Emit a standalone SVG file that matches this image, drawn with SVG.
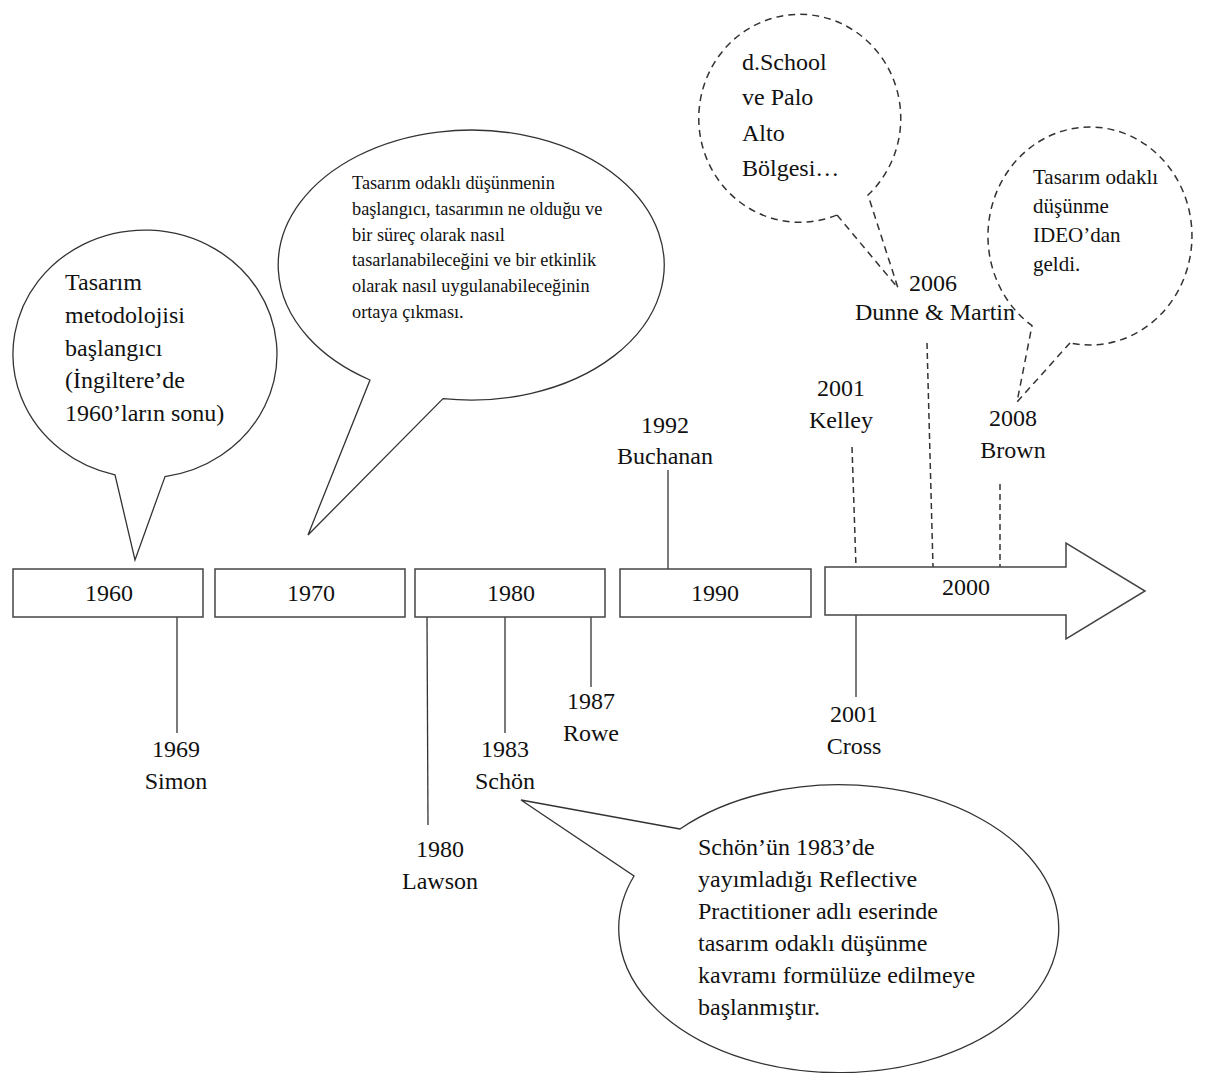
<svg xmlns="http://www.w3.org/2000/svg" width="1208" height="1073" viewBox="0 0 1208 1073">
<style>
text{font-family:"Liberation Serif","Times New Roman",serif;fill:#111;}
.lb{font-size:24px;text-anchor:middle;}
.bt{font-size:24px;}
.sm{font-size:18.3px;}
.md{font-size:21px;}
.bx{fill:#fff;stroke:#444;stroke-width:1.5;}
.bub{fill:#fff;stroke:#333;stroke-width:1.3;}
.dbub{fill:#fff;stroke:#333;stroke-width:1.5;stroke-dasharray:7 5;}
.ln{stroke:#333;stroke-width:1.3;fill:none;}
.dl{stroke:#333;stroke-width:1.5;fill:none;stroke-dasharray:6 4;}
</style>
<rect width="1208" height="1073" fill="#fff"/>
<g id="bubble-1960">
<path class="bub" d="M165,476.6 L135,560 L115,474.8 A132 124 0 1 1 165,476.6 Z"/>
<text class="bt" x="65" y="290">Tasarım</text>
<text class="bt" x="65" y="323">metodolojisi</text>
<text class="bt" x="65" y="356">başlangıcı</text>
<text class="bt" x="65" y="388">(İngiltere’de</text>
<text class="bt" x="65" y="421">1960’ların sonu)</text>
</g>
<g id="bubble-1970">
<path class="bub" d="M443,398.6 L308,535 L370,380 A193 135 0 1 1 443,398.6 Z"/>
<text class="sm" x="352" y="189">Tasarım odaklı düşünmenin</text>
<text class="sm" x="352" y="215">başlangıcı, tasarımın ne olduğu ve</text>
<text class="sm" x="352" y="241">bir süreç olarak nasıl</text>
<text class="sm" x="352" y="266">tasarlanabileceğini ve bir etkinlik</text>
<text class="sm" x="352" y="292">olarak nasıl uygulanabileceğinin</text>
<text class="sm" x="352" y="318">ortaya çıkması.</text>
</g>
<g id="bubble-dschool">
<path class="dbub" d="M837,215 L898,288 L868,195 A101 104 0 1 0 837,215 Z"/>
<text class="bt" x="742" y="70">d.School</text>
<text class="bt" x="742" y="105">ve Palo</text>
<text class="bt" x="742" y="141">Alto</text>
<text class="bt" x="742" y="176">Bölgesi…</text>
</g>
<g id="bubble-ideo">
<path class="dbub" d="M1070,342.9 L1017,402 L1032,325.7 A102 109 0 1 1 1070,342.9 Z"/>
<text class="md" x="1033" y="184">Tasarım odaklı</text>
<text class="md" x="1033" y="213">düşünme</text>
<text class="md" x="1033" y="242">IDEO’dan</text>
<text class="md" x="1033" y="271">geldi.</text>
</g>
<g id="bubble-schon">
<path class="bub" d="M680,829 L521,800 L634,876 A220 144 0 1 0 680,829 Z"/>
<text class="bt" x="698" y="855">Schön’ün 1983’de</text>
<text class="bt" x="698" y="887">yayımladığı Reflective</text>
<text class="bt" x="698" y="919">Practitioner adlı eserinde</text>
<text class="bt" x="698" y="951">tasarım odaklı düşünme</text>
<text class="bt" x="698" y="983">kavramı formülüze edilmeye</text>
<text class="bt" x="698" y="1015">başlanmıştır.</text>
</g>
<g id="connectors">
<line class="ln" x1="177" y1="617" x2="177" y2="733"/>
<line class="ln" x1="427" y1="617" x2="428" y2="825"/>
<line class="ln" x1="505" y1="617" x2="505" y2="733"/>
<line class="ln" x1="591" y1="617" x2="591" y2="687"/>
<line class="ln" x1="668" y1="470" x2="668" y2="569"/>
<line class="ln" x1="856" y1="615" x2="856" y2="697"/>
<line class="dl" x1="852" y1="447" x2="856" y2="567"/>
<line class="dl" x1="927" y1="343" x2="933" y2="567"/>
<line class="dl" x1="1000" y1="484" x2="1000" y2="567"/>
</g>
<g id="box-1960"><rect class="bx" x="13" y="569" width="190" height="48"/><text class="lb" x="109" y="601">1960</text></g>
<g id="box-1970"><rect class="bx" x="215" y="569" width="190" height="48"/><text class="lb" x="311" y="601">1970</text></g>
<g id="box-1980"><rect class="bx" x="415" y="569" width="190" height="48"/><text class="lb" x="511" y="601">1980</text></g>
<g id="box-1990"><rect class="bx" x="620" y="569" width="191" height="48"/><text class="lb" x="715" y="601">1990</text></g>
<g id="arrow-2000"><polygon class="bx" points="825,567 1066,567 1066,543 1145,591 1066,639 1066,615 825,615"/><text class="lb" x="966" y="595">2000</text></g>
<g id="label-simon"><text class="lb" x="176" y="757">1969</text><text class="lb" x="176" y="789">Simon</text></g>
<g id="label-lawson"><text class="lb" x="440" y="857">1980</text><text class="lb" x="440" y="889">Lawson</text></g>
<g id="label-schon"><text class="lb" x="505" y="757">1983</text><text class="lb" x="505" y="789">Schön</text></g>
<g id="label-rowe"><text class="lb" x="591" y="709">1987</text><text class="lb" x="591" y="741">Rowe</text></g>
<g id="label-buchanan"><text class="lb" x="665" y="433">1992</text><text class="lb" x="665" y="464">Buchanan</text></g>
<g id="label-cross"><text class="lb" x="854" y="722">2001</text><text class="lb" x="854" y="754">Cross</text></g>
<g id="label-kelley"><text class="lb" x="841" y="396">2001</text><text class="lb" x="841" y="428">Kelley</text></g>
<g id="label-dunne"><text class="lb" x="933" y="291">2006</text><text class="lb" x="935" y="320">Dunne &amp; Martin</text></g>
<g id="label-brown"><text class="lb" x="1013" y="426">2008</text><text class="lb" x="1013" y="458">Brown</text></g>
</svg>
